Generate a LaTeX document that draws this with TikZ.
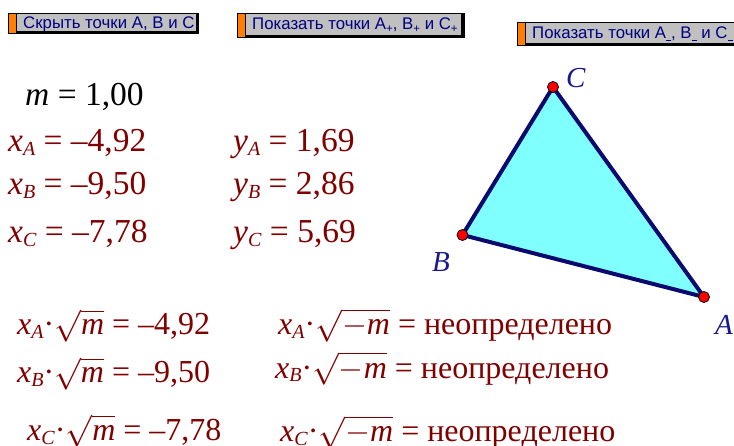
\RequirePackage{fix-cm}
\documentclass[tikz,border=0pt]{standalone}
\usepackage{fontspec}
\setmainfont{Liberation Serif}
\newfontfamily\arialfont{Liberation Sans}
\definecolor{txtred}{RGB}{128,0,0}
\definecolor{lblblue}{RGB}{25,25,140}
\definecolor{btnblue}{RGB}{0,0,128}
\definecolor{btngray}{RGB}{192,192,192}
\definecolor{btnorange}{RGB}{255,128,0}
\definecolor{triline}{RGB}{10,10,110}
\definecolor{trifill}{RGB}{128,255,255}
\newcommand\xsub[1]{\textit{x}\raisebox{-4pt}{\fontsize{20}{20}\selectfont\textit{#1}}}
\newcommand\ysub[1]{\textit{y}\raisebox{-4pt}{\fontsize{20}{20}\selectfont\textit{#1}}}
\newcommand\bsub[1]{\raisebox{-3pt}{\fontsize{11.5}{11.5}\selectfont #1}}
\newcommand\bminus{\raisebox{-2.5pt}{\rule{5pt}{1.1pt}}}
\begin{document}
\begin{tikzpicture}[x=1pt,y=-1pt,
  mtext/.style={anchor=base west,inner sep=0pt,text=txtred,font=\fontsize{33.5}{33.5}\selectfont},
  btmtext/.style={anchor=base west,inner sep=0pt,text=txtred,font=\fontsize{32}{32}\selectfont},
  btext/.style={anchor=base west,inner sep=0pt,text=btnblue,font=\arialfont\fontsize{16.8}{17}\selectfont},
  lbl/.style={anchor=base west,inner sep=0pt,text=lblblue,font=\fontsize{29}{29}\selectfont\itshape},
  pt/.style={circle,draw=black,fill=red,line width=0.8pt,minimum size=11pt,inner sep=0pt},
  btnshadow/.style={fill=black},
  btnstrip/.style={fill=btnorange},
  btnface/.style={fill=btngray}]
\useasboundingbox (0,0) rectangle (734,446);
% buttons
\fill[btnshadow] (8,13) rectangle (199,34);
\fill[btnstrip] (9,14) rectangle (16,33);
\fill[btnface] (17,14) rectangle (196,31);
\node[btext] (b1) at (23,29) {Скрыть точки A, B и C};
\fill[btnshadow] (237,13) rectangle (465,38);
\fill[btnstrip] (238,14) rectangle (245,37);
\fill[btnface] (246,14) rectangle (461,35);
\node[btext] (b2) at (252,30) {Показать точки A\bsub{+}, B\bsub{+} и C\bsub{+}};
\fill[btnshadow] (517,22) rectangle (734,46);
\fill[btnstrip] (518,23) rectangle (525,45);
\fill[btnface] (526,23) rectangle (734,43);
\node[btext] (b3) at (532,39) {Показать точки A\bminus, B\bminus{} и C\bminus};
% values
\node[mtext,text=black] (m) at (25,106) {\textit{m} = 1,00};
\node[mtext] (xa) at (8,152) {\xsub{A} = –4,92};
\node[mtext] (ya) at (233,152) {\ysub{A} = 1,69};
\node[mtext] (xb) at (8,195) {\xsub{B} = –9,50};
\node[mtext] (yb) at (233,195) {\ysub{B} = 2,86};
\node[mtext] (xc) at (8,243) {\xsub{C} = –7,78};
\node[mtext] (yc) at (233,243) {\ysub{C} = 5,69};
% products
\node[btmtext] (pa) at (17,335) {\xsub{A}·$\sqrt{\textit{m}}$ = –4,92};
\node[btmtext] (pb) at (17,383) {\xsub{B}·$\sqrt{\textit{m}}$ = –9,50};
\node[btmtext] (pc) at (27,440) {\xsub{C}·$\sqrt{\textit{m}}$ = –7,78};
\node[btmtext] (na) at (278,335) {\xsub{A}·$\sqrt{-\textit{m}}$ = неопределено};
\node[btmtext] (nb) at (275,378) {\xsub{B}·$\sqrt{-\textit{m}}$ = неопределено};
\node[btmtext] (nc) at (280,442) {\xsub{C}·$\sqrt{-\textit{m}}$ = неопределено};
% triangle
\coordinate (A) at (704,297);
\coordinate (B) at (462.5,235);
\coordinate (C) at (553,87);
\filldraw[fill=trifill,draw=triline,line width=4pt,line join=round] (A) -- (B) -- (C) -- cycle;
\node[pt] (pA) at (A) {};
\node[pt] (pB) at (B) {};
\node[pt] (pC) at (C) {};
\node[lbl] (lA) at (715,335) {A};
\node[lbl] (lB) at (432,272) {B};
\node[lbl] (lC) at (566,88) {C};
\end{tikzpicture}
\end{document}
